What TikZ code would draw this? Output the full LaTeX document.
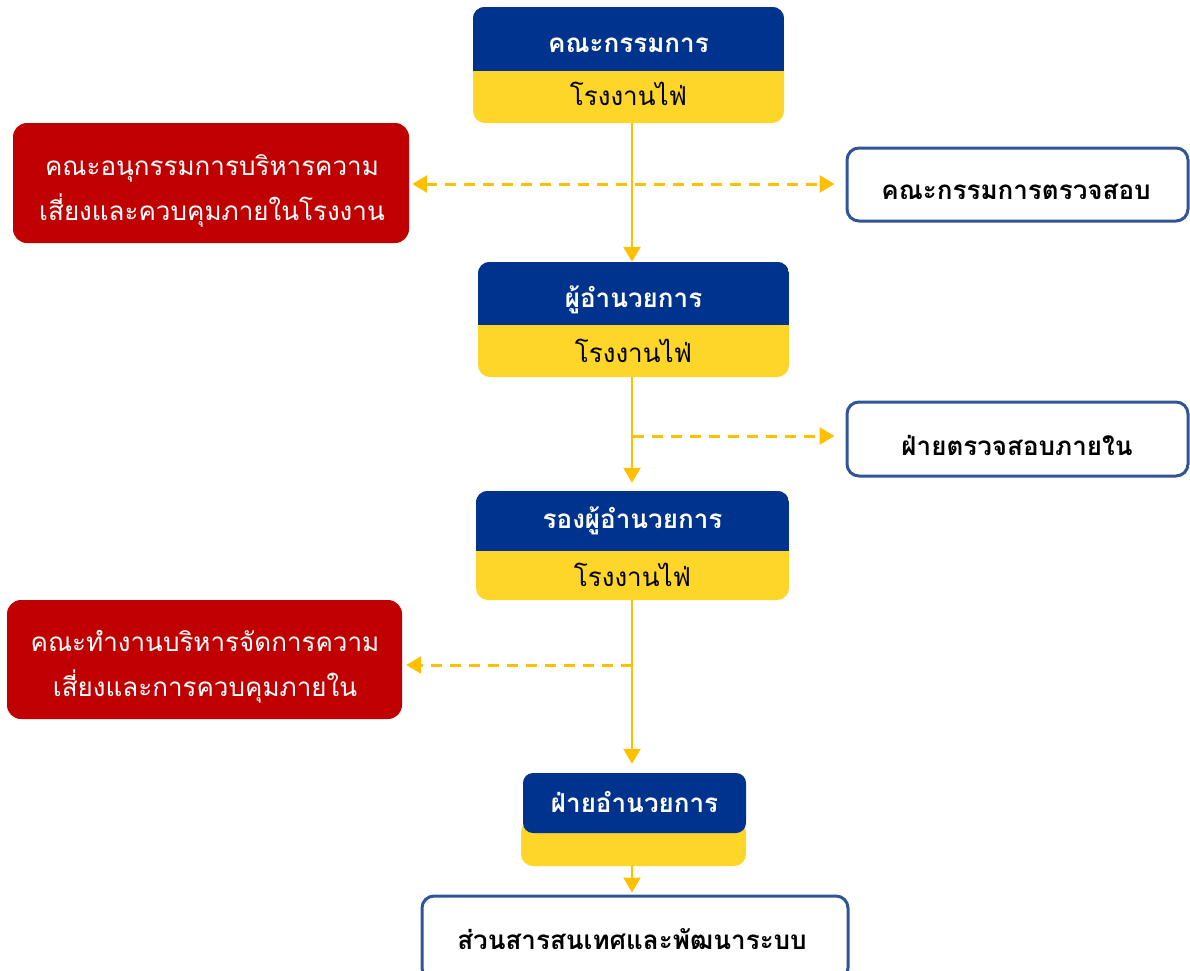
\documentclass[tikz,border=0pt]{standalone}
\usepackage{fontspec}
\newfontfamily\thai[Script=Thai]{Loma}
\usetikzlibrary{arrows.meta}
\definecolor{navy}{RGB}{0,51,141}
\definecolor{gold}{RGB}{253,214,41}
\definecolor{crimson}{RGB}{192,0,0}
\definecolor{frameblue}{RGB}{47,85,151}
\definecolor{amber}{RGB}{255,192,0}
\begin{document}
\begin{tikzpicture}[x=1pt,y=-1pt,
  txt/.style={font=\thai\fontsize{26}{40}\selectfont, inner sep=0pt, align=center},
  head/.style={txt, text=white, font=\thai\bfseries\fontsize{26}{40}\selectfont},
  sub/.style={txt, text=black},
  boldtxt/.style={txt, font=\thai\bfseries\fontsize{26}{40}\selectfont},
  redtxt/.style={txt, text=white, font=\thai\fontsize{26}{45}\selectfont},
  goldbox/.style={fill=gold, rounded corners=12pt, inner sep=0pt},
  redbox/.style={fill=crimson, rounded corners=14pt, inner sep=0pt},
  outbox/.style={draw=frameblue, line width=3pt, fill=white, rounded corners=12pt,
    inner sep=0pt},
  link/.style={draw=amber, line width=2.5pt, -{Triangle[length=15pt,width=17pt]}},
  side/.style={link, line width=3pt, dash pattern=on 11pt off 8pt}]
\useasboundingbox (0,0) rectangle (1190,970);

% spine of the chart
\coordinate (spine) at (632,0);

% board of directors
\node[goldbox, minimum width=311pt, minimum height=116pt] (b1) at (628.5,65) {};
\begin{scope}
  \clip[rounded corners=12pt] (b1.north west) rectangle (b1.south east);
  \fill[navy] (b1.north west) rectangle (784,71);
\end{scope}
\node[head] (b1h) at (628.5,45) {คณะกรรมการ};
\node[sub] (b1s) at (628.5,94) {โรงงานไฟ่};

% director
\node[goldbox, minimum width=311pt, minimum height=115pt] (b2) at (633.5,319.5) {};
\begin{scope}
  \clip[rounded corners=12pt] (b2.north west) rectangle (b2.south east);
  \fill[navy] (b2.north west) rectangle (789,325);
\end{scope}
\node[head] (b2h) at (633.5,300) {ผู้อำนวยการ};
\node[sub] (b2s) at (633.5,351) {โรงงานไฟ่};

% deputy director
\node[goldbox, minimum width=313pt, minimum height=109pt] (b3) at (632.5,545.5) {};
\begin{scope}
  \clip[rounded corners=12pt] (b3.north west) rectangle (b3.south east);
  \fill[navy] (b3.north west) rectangle (789,551);
\end{scope}
\node[head] (b3h) at (632.5,521) {รองผู้อำนวยการ};
\node[sub] (b3s) at (632.5,575) {โรงงานไฟ่};

% administration division
\node[goldbox, minimum width=225pt, minimum height=46pt] (b4) at (633.5,843) {};
\node[fill=navy, rounded corners=10pt, minimum width=223pt, minimum height=60pt,
  inner sep=0pt] (b4t) at (634.5,803) {};
\node[head] (b4h) at (634.5,802) {ฝ่ายอำนวยการ};

% information section
\node[outbox, minimum width=426pt, minimum height=84pt] (b5) at (635,938) {};
\node[boldtxt] (b5t) at (632,939) {ส่วนสารสนเทศและพัฒนาระบบ};

% risk committees
\node[redbox, minimum width=396pt, minimum height=120pt] (r1) at (211,183) {};
\node[redtxt] (r1t) at (212,191) {คณะอนุกรรมการบริหารความ\\เสี่ยงและควบคุมภายในโรงงาน};
\node[redbox, minimum width=395pt, minimum height=119pt] (r2) at (204.5,659.5) {};
\node[redtxt] (r2t) at (205,667) {คณะทำงานบริหารจัดการความ\\เสี่ยงและการควบคุมภายใน};

% audit units
\node[outbox, minimum width=341pt, minimum height=73pt] (a1) at (1017.5,184.5) {};
\node[boldtxt] (a1t) at (1016,192) {คณะกรรมการตรวจสอบ};
\node[outbox, minimum width=341pt, minimum height=74pt] (a2) at (1017.5,439) {};
\node[boldtxt] (a2t) at (1017,445) {ฝ่ายตรวจสอบภายใน};

% vertical chain
\draw[link] (b1.south -| spine) -- (b2.north -| spine);
\draw[link, shorten >=8pt] (b2.south -| spine) -- (b3.north -| spine);
\draw[link, shorten >=9pt] (b3.south -| spine) -- (b4t.north -| spine);
\draw[link, shorten >=2pt] (b4.south -| spine) -- (b5.north -| spine);

% side links
\coordinate (s1) at (632,184);
\draw[side, {Triangle[length=15pt,width=17pt]}-{Triangle[length=15pt,width=17pt]},
  shorten <=3pt, shorten >=11pt] (r1.east |- s1) -- (a1.west |- s1);
\coordinate (s2) at (633,436);
\draw[side, shorten >=11pt] (s2) -- (a2.west |- s2);
\coordinate (s3) at (632,665);
\draw[side, shorten >=4pt] (s3) -- (r2.east |- s3);
\end{tikzpicture}
\end{document}
